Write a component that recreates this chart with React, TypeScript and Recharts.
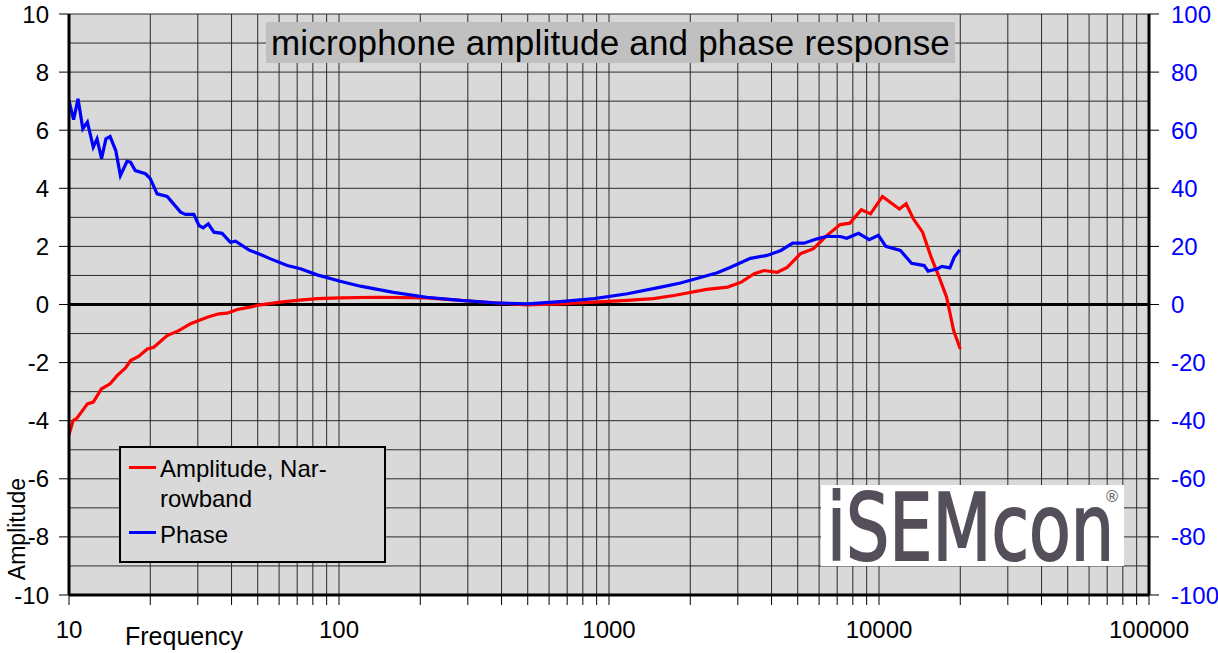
import React from "react";
import {
  LineChart,
  Line,
  XAxis,
  YAxis,
  CartesianGrid,
  ReferenceLine,
  Legend,
} from "recharts";

// amplitude curve (left axis), frequency in Hz
const ampFreq = [
  10, 10.35, 10.7, 11.7, 12.3, 13.2, 14.2, 15.1, 16.2, 16.9, 18.1, 19.5, 20.6, 23.1, 25.5, 28.2,
  32.5, 35.9, 38.5, 42, 45.7, 51.2, 60.7, 70, 83, 101, 138, 211, 282, 374, 499, 660, 882, 1170,
  1460, 1740, 2300, 2750, 3090, 3450, 3750, 4200, 4570, 5120, 5720, 6420, 7180, 7800, 8600, 9300,
  10300, 11000, 11900, 12600, 13400, 14500, 15600, 16700, 17800, 18900, 20000,
];
const ampValues = [
  -4.48, -4.0, -3.91, -3.42, -3.36, -2.9, -2.73, -2.44, -2.18, -1.93, -1.79, -1.53, -1.47, -1.07,
  -0.9, -0.66, -0.44, -0.32, -0.3, -0.17, -0.11, -0.01, 0.08, 0.14, 0.2, 0.23, 0.25, 0.23, 0.14,
  0.06, -0.01, 0.02, 0.08, 0.14, 0.2, 0.31, 0.52, 0.6, 0.77, 1.06, 1.17, 1.11, 1.28, 1.75, 1.92,
  2.38, 2.75, 2.8, 3.26, 3.12, 3.72, 3.52, 3.29, 3.47, 2.95, 2.49, 1.63, 0.94, 0.25, -0.9, -1.53,
];

// phase curve (right axis, degrees)
const phaseFreq = [
  10, 10.4, 10.8, 11.25, 11.7, 12.3, 12.7, 13.2, 13.7, 14.2, 14.9, 15.5, 16.4, 16.9, 17.6, 19.2,
  20, 21.2, 23.1, 25.9, 27, 29, 30.3, 31.4, 32.8, 34.4, 36.9, 39.6, 41.4, 46.3, 51.2, 55.8, 64.3,
  72, 83, 101, 120, 159, 211, 282, 374, 499, 660, 882, 1170, 1555, 1840, 2520, 2820, 3340, 3850,
  4330, 4790, 5270, 5900, 6420, 7180, 7600, 8400, 9200, 9950, 10600, 12000, 13200, 14700, 15200,
  16500, 17100, 18300, 19000, 19900,
];
const phaseValues = [
  70.2, 63.6, 70.8, 60.5, 62.8, 54.2, 57.0, 50.2, 57.0, 57.8, 53, 44.4, 49.3, 49, 46.1, 45, 43.3,
  38.1, 37.2, 31.8, 31, 31, 27.2, 26.4, 27.8, 24.9, 24.5, 21.4, 21.8, 18.8, 17.2, 15.7, 13.4, 12.3,
  10.2, 8.0, 6.3, 4.2, 2.5, 1.4, 0.6, 0.2, 1.0, 2.0, 3.7, 6.0, 7.4, 10.9, 12.8, 15.9, 16.9, 18.6,
  21.1, 21.1, 22.6, 23.5, 23.4, 22.8, 24.5, 22.3, 23.8, 20.0, 18.6, 14.2, 13.4, 11.5, 12.3, 13.1,
  12.6, 16.3, 18.8,
];

const freqTicks = [
  10, 20, 30, 40, 50, 60, 70, 80, 90, 100, 200, 300, 400, 500, 600, 700, 800, 900, 1000, 2000,
  3000, 4000, 5000, 6000, 7000, 8000, 9000, 10000, 20000, 30000, 40000, 50000, 60000, 70000,
  80000, 90000, 100000,
];
const decadeLabels = [10, 100, 1000, 10000, 100000];
// grid lines every 1, labels every 2
const ampTicks = [-10, -9, -8, -7, -6, -5, -4, -3, -2, -1, 0, 1, 2, 3, 4, 5, 6, 7, 8, 9, 10];
const phaseTicks = [-100, -80, -60, -40, -20, 0, 20, 40, 60, 80, 100];

const ampData = ampFreq.map((f, i) => ({ f, amp: ampValues[i] }));
const phaseData = phaseFreq.map((f, i) => ({ f, phase: phaseValues[i] }));

const FONT = "'Liberation Sans', Arial, sans-serif";

// left axis tick: label + tick mark only on even values
const AmpTick = (props: any) => {
  const { x, y, payload } = props;
  if (payload.value % 2 !== 0) return <g />;
  return (
    <g>
      <line x1={x + 10} x2={x + 20} y1={y} y2={y} stroke="#000" />
      <text x={x} y={y} dy="0.355em" textAnchor="end" fill="#000" fontSize={24} fontFamily={FONT}>
        {payload.value}
      </text>
    </g>
  );
};

const renderLegend = () => (
  <div
    style={{
      position: "relative",
      width: 263,
      height: 113,
      border: "2px solid #000",
      background: "#d9d9d9",
      fontFamily: FONT,
      fontSize: 24,
      color: "#000",
      lineHeight: "30px",
    }}
  >
    <div style={{ position: "absolute", left: 8, top: 18, width: 27, height: 3, background: "#ff0000" }} />
    <div style={{ position: "absolute", left: 39, top: 6 }}>
      Amplitude, Nar-
      <br />
      rowband
    </div>
    <div style={{ position: "absolute", left: 8, top: 83, width: 27, height: 3, background: "#0000ff" }} />
    <div style={{ position: "absolute", left: 39, top: 72 }}>Phase</div>
  </div>
);

export default function App() {
  return (
    <div style={{ position: "absolute", left: 0, top: 0, width: 1218, height: 653, background: "#fff" }}>
      <LineChart width={1218} height={653} margin={{ top: 14, right: 0, bottom: 0, left: 0 }}>
        <CartesianGrid stroke="#2a2a2a" strokeWidth={1} fill="#d9d9d9" />
        <XAxis
          dataKey="f"
          type="number"
          scale="log"
          domain={[10, 100000]}
          ticks={freqTicks}
          allowDataOverflow
          height={58}
          tickSize={10}
          tickMargin={16}
          tickFormatter={(v: number) => (decadeLabels.includes(v) ? String(v) : "")}
          axisLine={{ stroke: "#000", strokeWidth: 3 }}
          tickLine={{ stroke: "#000" }}
          tick={{ fill: "#000", fontSize: 24, fontFamily: FONT }}
          interval={0}
        />
        <YAxis
          domain={[-10, 10]}
          ticks={ampTicks}
          width={69}
          tickSize={10}
          tickMargin={10}
          axisLine={{ stroke: "#000", strokeWidth: 3 }}
          tickLine={false}
          tick={AmpTick}
          interval={0}
        />
        <YAxis
          yAxisId="right"
          orientation="right"
          domain={[-100, 100]}
          ticks={phaseTicks}
          width={69}
          tickSize={10}
          tickMargin={12}
          axisLine={{ stroke: "#000", strokeWidth: 3 }}
          tickLine={{ stroke: "#000" }}
          tick={{ fill: "#0000ff", fontSize: 24, fontFamily: FONT }}
          interval={0}
        />
        <ReferenceLine y={0} stroke="#000" strokeWidth={3} />
        <Line
          data={ampData}
          dataKey="amp"
          type="linear"
          stroke="#ff0000"
          strokeWidth={3.2}
          dot={false}
          isAnimationActive={false}
          name="Amplitude, Narrowband"
        />
        <Line
          data={phaseData}
          dataKey="phase"
          yAxisId="right"
          type="linear"
          stroke="#0000ff"
          strokeWidth={3.2}
          dot={false}
          isAnimationActive={false}
          name="Phase"
        />
        <Legend
          layout="vertical"
          align="center"
          verticalAlign="middle"
          content={renderLegend}
          wrapperStyle={{ position: "absolute", left: 119, top: 446, width: 267, height: 117 }}
        />
      </LineChart>

      {/* title box */}
      <div
        style={{
          position: "absolute",
          left: 266,
          top: 22,
          width: 689,
          height: 41,
          background: "#c0c0c0",
          fontFamily: FONT,
          fontSize: 35,
          letterSpacing: 0.2,
          lineHeight: "41px",
          textAlign: "center",
          color: "#000",
          whiteSpace: "nowrap",
        }}
      >
        microphone amplitude and phase response
      </div>

      {/* axis titles */}
      <svg
        width={1218}
        height={653}
        style={{ position: "absolute", left: 0, top: 0, pointerEvents: "none" }}
      >
        <text x={125} y={645} fontFamily={FONT} fontSize={25} fill="#000">
          Frequency
        </text>
        <text
          x={0}
          y={0}
          transform="translate(25 529) rotate(-90)"
          textAnchor="middle"
          fontFamily={FONT}
          fontSize={23}
          fill="#000"
        >
          Amplitude
        </text>
      </svg>

      {/* logo */}
      <svg width={303} height={81} style={{ position: "absolute", left: 821, top: 485, background: "#fff" }}>
        <text
          x={6}
          y={75}
          fontFamily="'DejaVu Sans', sans-serif"
          fontSize={92}
          fill="#544f5a"
          stroke="#544f5a"
          strokeWidth={2}
          textLength={287}
          lengthAdjust="spacingAndGlyphs"
        >
          iSEMcon
        </text>
        <text x={291} y={17} textAnchor="middle" fontFamily="'DejaVu Sans', sans-serif" fontSize={16} fill="#6a6570">
          ®
        </text>
      </svg>
    </div>
  );
}
